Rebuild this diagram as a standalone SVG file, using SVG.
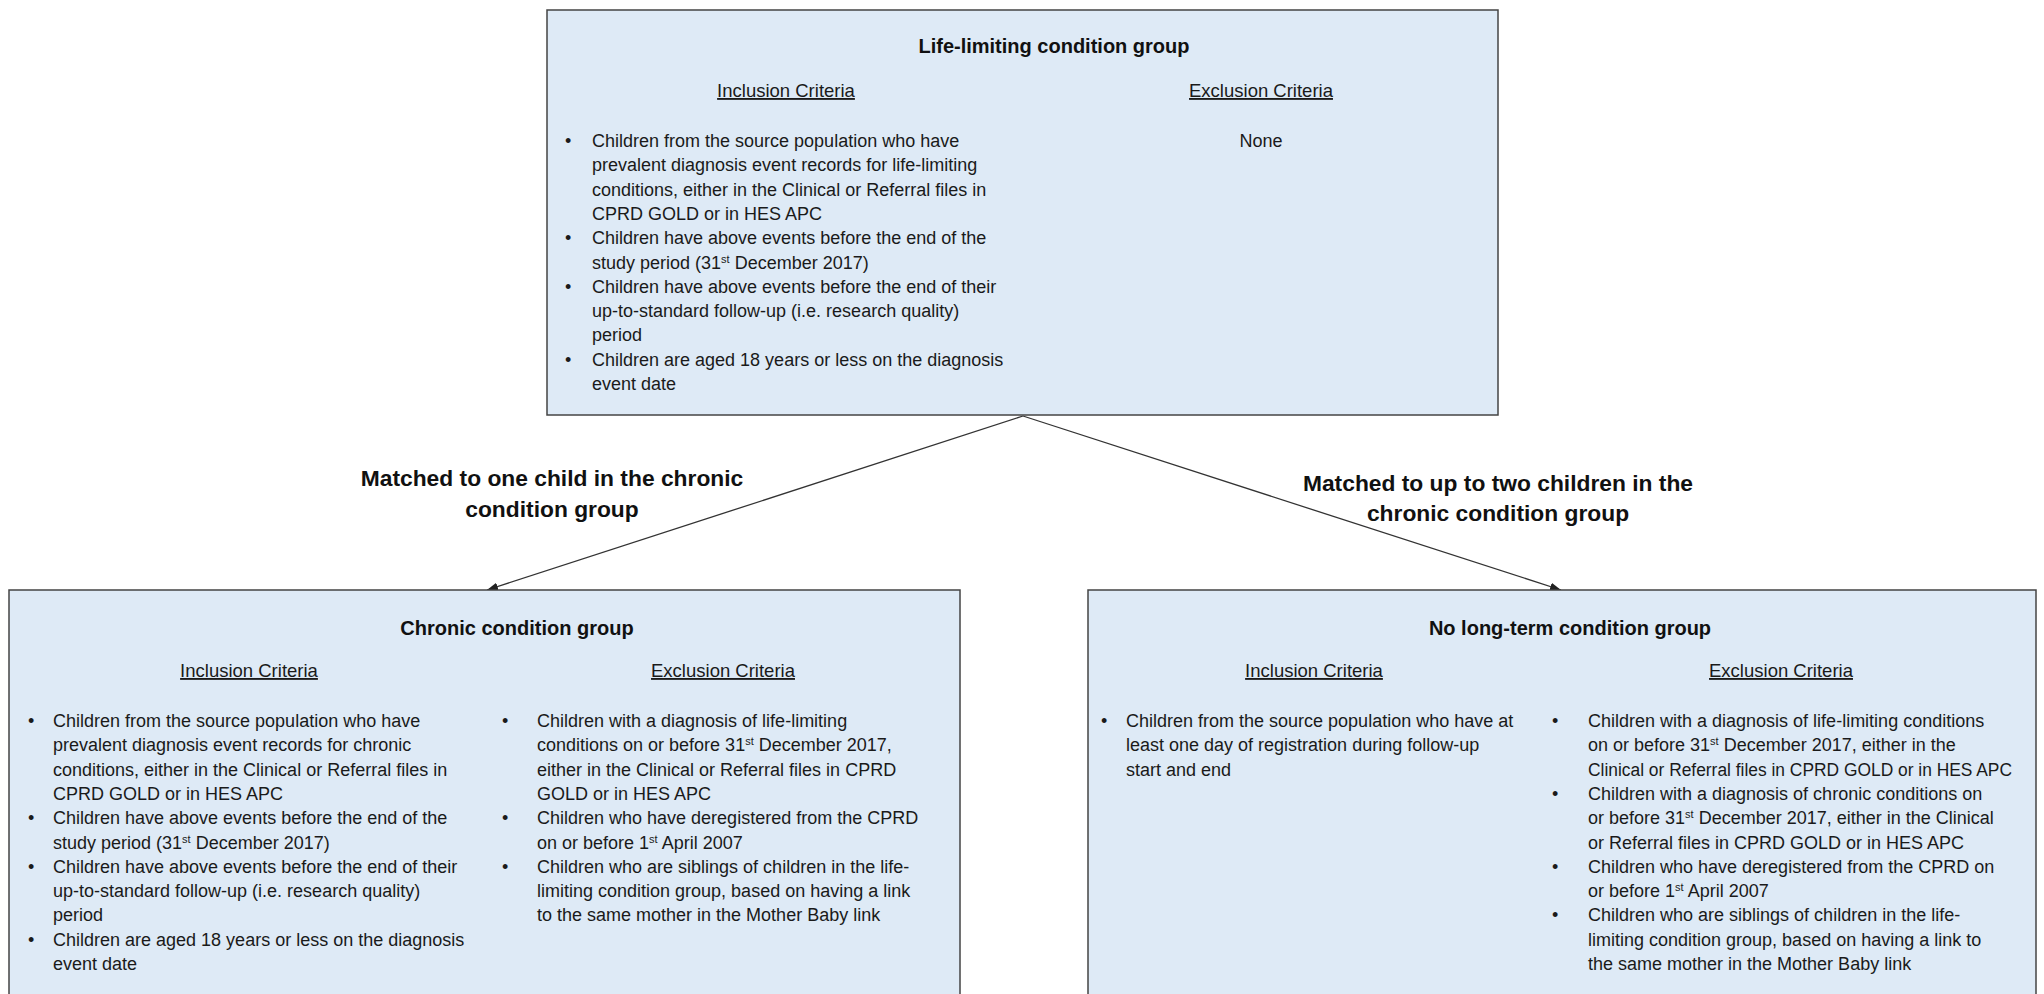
<svg xmlns="http://www.w3.org/2000/svg" width="2044" height="994" viewBox="0 0 2044 994">
<style>
.box{fill:#deeaf6;stroke:#444;stroke-width:1.5}
.t{font-family:'Liberation Sans',Arial,sans-serif;font-size:18px;fill:#1a1a1a}
.title{font-family:'Liberation Sans',Arial,sans-serif;font-size:20px;font-weight:bold;fill:#111;text-anchor:middle}
.hdr{font-family:'Liberation Sans',Arial,sans-serif;font-size:18.5px;fill:#1a1a1a;text-anchor:middle;text-decoration:underline}
.lbl{font-family:'Liberation Sans',Arial,sans-serif;font-size:22.8px;font-weight:bold;fill:#111;text-anchor:middle}
.sup{font-size:11px}
.conn{stroke:#333;stroke-width:1.3;fill:none;marker-end:url(#arr)}
</style>
<defs>
<marker id="arr" markerUnits="userSpaceOnUse" markerWidth="12" markerHeight="10" refX="11" refY="4" orient="auto">
<path d="M0,0 L11,4 L0,8 z" fill="#222"/>
</marker>
</defs>
<rect width="2044" height="994" fill="#fff"/>

<g id="connectors">
<line class="conn" x1="1023" y1="416" x2="487" y2="590"/>
<line class="conn" x1="1023" y1="416" x2="1561" y2="590"/>
<text class="lbl" x="552" y="486">Matched to one child in the chronic</text>
<text class="lbl" x="552" y="517">condition group</text>
<text class="lbl" x="1498" y="491">Matched to up to two children in the</text>
<text class="lbl" x="1498" y="521">chronic condition group</text>
</g>

<g id="life-limiting">
<rect class="box" x="547" y="10" width="951" height="405"/>
<text class="title" x="1054" y="53">Life-limiting condition group</text>
<text class="hdr" x="786" y="97">Inclusion Criteria</text>
<text class="hdr" x="1261" y="97">Exclusion Criteria</text>
<text class="t" x="1261" y="147" text-anchor="middle">None</text>
<text class="t" x="565" y="147">•</text>
<text class="t" x="565" y="244.2">•</text>
<text class="t" x="565" y="292.8">•</text>
<text class="t" x="565" y="365.7">•</text>
<text class="t" x="592" y="147">Children from the source population who have</text>
<text class="t" x="592" y="171.3">prevalent diagnosis event records for life-limiting</text>
<text class="t" x="592" y="195.6">conditions, either in the Clinical or Referral files in</text>
<text class="t" x="592" y="220">CPRD GOLD or in HES APC</text>
<text class="t" x="592" y="244.2">Children have above events before the end of the</text>
<text class="t" x="592" y="268.5">study period (31<tspan class="sup" dy="-6">st</tspan><tspan dy="6"> December 2017)</tspan></text>
<text class="t" x="592" y="292.8">Children have above events before the end of their</text>
<text class="t" x="592" y="317">up-to-standard follow-up (i.e. research quality)</text>
<text class="t" x="592" y="341.4">period</text>
<text class="t" x="592" y="365.7">Children are aged 18 years or less on the diagnosis</text>
<text class="t" x="592" y="390">event date</text>
</g>

<g id="chronic">
<rect class="box" x="9" y="590" width="951" height="420"/>
<text class="title" x="517" y="635">Chronic condition group</text>
<text class="hdr" x="249" y="677">Inclusion Criteria</text>
<text class="hdr" x="723" y="677">Exclusion Criteria</text>
<text class="t" x="28" y="727">•</text>
<text class="t" x="28" y="824.2">•</text>
<text class="t" x="28" y="872.8">•</text>
<text class="t" x="28" y="945.7">•</text>
<text class="t" x="53" y="727">Children from the source population who have</text>
<text class="t" x="53" y="751.3">prevalent diagnosis event records for chronic</text>
<text class="t" x="53" y="775.6">conditions, either in the Clinical or Referral files in</text>
<text class="t" x="53" y="799.9">CPRD GOLD or in HES APC</text>
<text class="t" x="53" y="824.2">Children have above events before the end of the</text>
<text class="t" x="53" y="848.5">study period (31<tspan class="sup" dy="-6">st</tspan><tspan dy="6"> December 2017)</tspan></text>
<text class="t" x="53" y="872.8">Children have above events before the end of their</text>
<text class="t" x="53" y="897.1">up-to-standard follow-up (i.e. research quality)</text>
<text class="t" x="53" y="921.4">period</text>
<text class="t" x="53" y="945.7">Children are aged 18 years or less on the diagnosis</text>
<text class="t" x="53" y="970">event date</text>
<text class="t" x="502" y="727">•</text>
<text class="t" x="502" y="824.2">•</text>
<text class="t" x="502" y="872.8">•</text>
<text class="t" x="537" y="727">Children with a diagnosis of life-limiting</text>
<text class="t" x="537" y="751.3">conditions on or before 31<tspan class="sup" dy="-6">st</tspan><tspan dy="6"> December 2017,</tspan></text>
<text class="t" x="537" y="775.6">either in the Clinical or Referral files in CPRD</text>
<text class="t" x="537" y="799.9">GOLD or in HES APC</text>
<text class="t" x="537" y="824.2">Children who have deregistered from the CPRD</text>
<text class="t" x="537" y="848.5">on or before 1<tspan class="sup" dy="-6">st</tspan><tspan dy="6"> April 2007</tspan></text>
<text class="t" x="537" y="872.8">Children who are siblings of children in the life-</text>
<text class="t" x="537" y="897.1">limiting condition group, based on having a link</text>
<text class="t" x="537" y="921.4">to the same mother in the Mother Baby link</text>
</g>

<g id="no-long-term">
<rect class="box" x="1088" y="590" width="948" height="420"/>
<text class="title" x="1570" y="635">No long-term condition group</text>
<text class="hdr" x="1314" y="677">Inclusion Criteria</text>
<text class="hdr" x="1781" y="677">Exclusion Criteria</text>
<text class="t" x="1101" y="727">•</text>
<text class="t" x="1126" y="727">Children from the source population who have at</text>
<text class="t" x="1126" y="751.3">least one day of registration during follow-up</text>
<text class="t" x="1126" y="775.6">start and end</text>
<text class="t" x="1552" y="727">•</text>
<text class="t" x="1552" y="799.9">•</text>
<text class="t" x="1552" y="872.8">•</text>
<text class="t" x="1552" y="921.4">•</text>
<text class="t" x="1588" y="727">Children with a diagnosis of life-limiting conditions</text>
<text class="t" x="1588" y="751.3">on or before 31<tspan class="sup" dy="-6">st</tspan><tspan dy="6"> December 2017, either in the</tspan></text>
<text class="t" x="1588" y="775.6" textLength="424" lengthAdjust="spacingAndGlyphs">Clinical or Referral files in CPRD GOLD or in HES APC</text>
<text class="t" x="1588" y="799.9">Children with a diagnosis of chronic conditions on</text>
<text class="t" x="1588" y="824.2">or before 31<tspan class="sup" dy="-6">st</tspan><tspan dy="6"> December 2017, either in the Clinical</tspan></text>
<text class="t" x="1588" y="848.5">or Referral files in CPRD GOLD or in HES APC</text>
<text class="t" x="1588" y="872.8">Children who have deregistered from the CPRD on</text>
<text class="t" x="1588" y="897.1">or before 1<tspan class="sup" dy="-6">st</tspan><tspan dy="6"> April 2007</tspan></text>
<text class="t" x="1588" y="921.4">Children who are siblings of children in the life-</text>
<text class="t" x="1588" y="945.7">limiting condition group, based on having a link to</text>
<text class="t" x="1588" y="970">the same mother in the Mother Baby link</text>
</g>
</svg>
